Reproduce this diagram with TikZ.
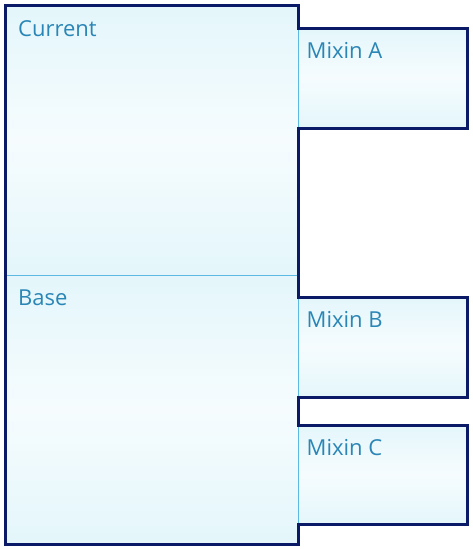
\documentclass[tikz,border=0pt]{standalone}
\usepackage{fontspec}
\setmainfont{Open Sans}
\definecolor{navy}{HTML}{0B1A66}
\definecolor{txt}{HTML}{2A86B6}
\definecolor{sep}{HTML}{5CB9E2}
\definecolor{cyanA}{HTML}{E4F6FB}
\definecolor{cyanB}{HTML}{F6FCFE}
\tikzset{
  box/.style={rectangle, inner sep=0pt, outer sep=0pt, anchor=north west,
    top color=cyanA, bottom color=cyanA, middle color=cyanB},
  lbl/.style={anchor=north west, inner sep=0pt, text=txt, font=\fontsize{22}{26}\selectfont},
  outline/.style={draw=navy, line width=3pt, line join=miter},
  divider/.style={draw=sep, line width=0.9pt}
}
\begin{document}
\begin{tikzpicture}[x=1pt,y=-1pt]
\useasboundingbox (0,0) rectangle (472,549);
\node[box, minimum width=293pt, minimum height=270pt] (current) at (5,5) {};
\node[box, minimum width=293pt, minimum height=269pt] (base) at (5,275) {};
\node[box, minimum width=169pt, minimum height=100pt] (ma) at (298,28) {};
\node[box, minimum width=169pt, minimum height=100pt] (mb) at (298,297) {};
\node[box, minimum width=169pt, minimum height=99pt] (mc) at (298,425) {};
\node[lbl] (tcur) at ([xshift=13pt,yshift=-15pt]current.north west) {Current};
\node[lbl] (tbase) at ([xshift=13pt,yshift=-15pt]base.north west) {Base};
\node[lbl] (ta) at ([xshift=8.5pt,yshift=-14pt]ma.north west) {Mixin A};
\node[lbl] (tb) at ([xshift=8.5pt,yshift=-14pt]mb.north west) {Mixin B};
\node[lbl] (tc) at ([xshift=8.5pt,yshift=-14pt]mc.north west) {Mixin C};
\draw[divider] (current.south west) -- (current.south east);
\draw[divider] (ma.north west) -- (ma.south west);
\draw[divider] (mb.north west) -- (mb.south west);
\draw[divider] (mc.north west) -- (mc.south west);
\draw[outline] (current.north west) -- (current.north east) -- (ma.north west)
  -- (ma.north east) -- (ma.south east) -- (ma.south west)
  -- (mb.north west) -- (mb.north east) -- (mb.south east) -- (mb.south west)
  -- (mc.north west) -- (mc.north east) -- (mc.south east) -- (mc.south west)
  -- (base.south east) -- (base.south west) -- cycle;
\end{tikzpicture}
\end{document}
